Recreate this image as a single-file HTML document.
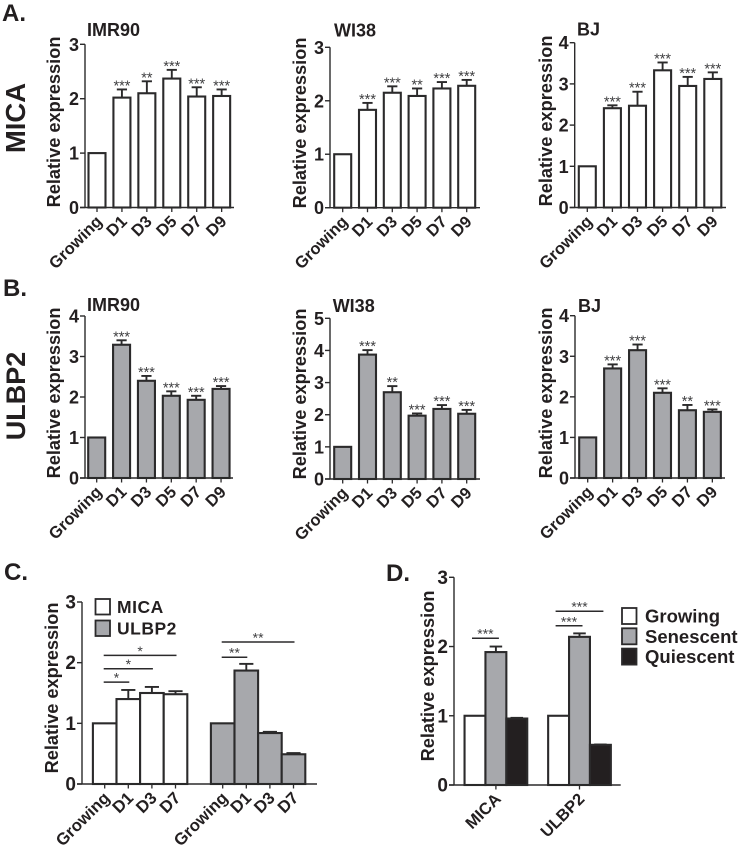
<!DOCTYPE html>
<html lang="en">
<head>
<meta charset="utf-8">
<title>Relative expression of MICA and ULBP2</title>
<style>
html,body{margin:0;padding:0;background:#fff;}
#figure{display:block;width:739px;height:848px;font-family:"Liberation Sans",sans-serif;filter:blur(.3px);}
text{font-family:"Liberation Sans",sans-serif;font-weight:bold;fill:#231f20;}
</style>
</head>
<body>
<svg id="figure" xmlns="http://www.w3.org/2000/svg" width="739" height="848" viewBox="0 0 739 848">
  <text x="2" y="21" font-size="24">A.</text>
  <text x="3" y="296" font-size="24">B.</text>
  <text x="4" y="580" font-size="24">C.</text>
  <text x="386" y="581" font-size="24">D.</text>
  <text transform="translate(25 118) rotate(-90)" text-anchor="middle" font-size="27.5">MICA</text>
  <text transform="translate(25 396) rotate(-90)" text-anchor="middle" font-size="27">ULBP2</text>
</svg>
<script>
// ---- Data ----
const timeCategories = ['Growing', 'D1', 'D3', 'D5', 'D7', 'D9'];
const shortCategories = ['Growing', 'D1', 'D3', 'D7'];
const stateSeries = ['Growing', 'Senescent', 'Quiescent'];
const geneCategories = ['MICA', 'ULBP2'];

const ticks3 = [0, 1, 2, 3];
const ticks4 = [0, 1, 2, 3, 4];
const ticks5 = [0, 1, 2, 3, 4, 5];

const micaImr90Values = [1, 2.02, 2.10, 2.37, 2.04, 2.05];
const micaImr90Errors = [0, 0.15, 0.22, 0.16, 0.17, 0.12];
const micaImr90Sig = ['', '***', '**', '***', '***', '***'];

const micaWi38Values = [1, 1.83, 2.15, 2.09, 2.23, 2.28];
const micaWi38Errors = [0, 0.13, 0.12, 0.14, 0.12, 0.11];
const micaWi38Sig = ['', '***', '***', '**', '***', '***'];

const micaBjValues = [1, 2.41, 2.47, 3.33, 2.95, 3.12];
const micaBjErrors = [0, 0.07, 0.34, 0.19, 0.22, 0.16];
const micaBjSig = ['', '***', '***', '***', '***', '***'];

const ulbp2Imr90Values = [1, 3.29, 2.40, 2.03, 1.93, 2.20];
const ulbp2Imr90Errors = [0, 0.11, 0.12, 0.11, 0.10, 0.07];
const ulbp2Imr90Sig = ['', '***', '***', '***', '***', '***'];

const ulbp2Wi38Values = [1, 3.87, 2.70, 1.97, 2.18, 2.03];
const ulbp2Wi38Errors = [0, 0.14, 0.19, 0.07, 0.12, 0.12];
const ulbp2Wi38Sig = ['', '***', '**', '***', '***', '***'];

const ulbp2BjValues = [1, 2.70, 3.15, 2.10, 1.67, 1.63];
const ulbp2BjErrors = [0, 0.10, 0.14, 0.11, 0.13, 0.06];
const ulbp2BjSig = ['', '***', '***', '***', '**', '***'];

const panelCMicaValues = [1, 1.40, 1.50, 1.48];
const panelCMicaErrors = [0, 0.15, 0.10, 0.05];
const panelCUlbp2Values = [1, 1.87, 0.84, 0.49];
const panelCUlbp2Errors = [0, 0.11, 0.02, 0.02];
const panelCBracketHeights = [1.68, 1.90, 2.12, 2.09, 2.34];
const panelCBracketLabels = ['*', '*', '*', '**', '**'];
const panelCBracketFrom = [0, 0, 0, 5, 5];
const panelCBracketTo = [1, 2, 3, 6, 8];

const panelDGrowingValues = [1, 1];
const panelDSenescentValues = [1.92, 2.14];
const panelDSenescentErrors = [0.08, 0.05];
const panelDQuiescentValues = [0.96, 0.58];
const panelDQuiescentErrors = [0.01, 0.005];
const panelDBracketHeights = [2.12, 2.30, 2.51];
const panelDBracketLabels = ['***', '***', '***'];
const panelDBracketFrom = [0, 4, 4];
const panelDBracketTo = [1, 5, 6];

// ---- Palette ----
const INK = '#2b2a2b';
const WHITE = '#ffffff';
const GREY = '#a7a8ac';
const BLACK = '#231f20';
const STAR = '#3f3f41';

const svg = document.getElementById('figure');
const NS = 'http://www.w3.org/2000/svg';

function make(tag, attrs, parent, content) {
  const node = document.createElementNS(NS, tag);
  for (const key in attrs) node.setAttribute(key, attrs[key]);
  if (content !== undefined) node.textContent = content;
  parent.appendChild(node);
  return node;
}

function makeY(cfg) {
  return function (v) { return cfg.bottom - (cfg.bottom - cfg.top) * v / cfg.max; };
}
function makeX(cfg) {
  return function (slot) { return cfg.x0 + cfg.step * slot; };
}

function drawAxes(cfg, g, y) {
  const yAxis = make('line', {x1: cfg.axisX, x2: cfg.axisX, y1: cfg.top, y2: cfg.bottom, stroke: INK, 'stroke-width': 1.4}, g);
  
  
  const xAxis = make('line', {x1: cfg.axisX - 5, x2: cfg.right, y1: cfg.bottom, y2: cfg.bottom, stroke: INK, 'stroke-width': 1.4}, g);
  
  
  cfg.ticks.forEach(function (t) {
    const tick = make('line', {x1: cfg.axisX - 5, x2: cfg.axisX, y1: y(t), y2: y(t), stroke: INK, 'stroke-width': 1.4}, g);
    
    
    const label = make('text', {x: cfg.axisX - 6, y: y(t) + 6.5, 'text-anchor': 'end', 'font-size': cfg.tickSize || 18}, g, String(t));
    
    
  });
  const yTitle = make('text', {transform: 'translate(' + cfg.yTitleX + ' ' + cfg.yTitleY + ') rotate(-90)', 'text-anchor': 'middle', 'font-size': 18.2}, g, 'Relative expression');
  
  
}

function drawBar(g, cx, width, value, err, fill, y, bottom) {
  if (err > 0) {
    const stem = make('line', {x1: cx, x2: cx, y1: y(value), y2: y(value + err), stroke: INK, 'stroke-width': 1.9}, g);
    
    
    const cap = make('line', {x1: cx - width * 0.3, x2: cx + width * 0.3, y1: y(value + err), y2: y(value + err), stroke: INK, 'stroke-width': 1.9}, g);
    
    
  }
  const bar = make('rect', {x: cx - width / 2, y: y(value), width: width, height: bottom - y(value), fill: fill, stroke: INK, 'stroke-width': 2.1}, g);
  
  
}

function drawXLabel(g, cx, bottom, text, dx, dy, size) {
  const tick = make('line', {x1: cx, x2: cx, y1: bottom, y2: bottom + 4.5, stroke: INK, 'stroke-width': 1.3}, g);
  
  
  const label = make('text', {transform: 'translate(' + (cx + dx) + ' ' + (bottom + dy) + ') rotate(-45)', 'text-anchor': 'end', 'font-size': size}, g, text);
  
  
}

function drawTimeChart(cfg) {
  const g = make('g', {}, svg);
  
  
  const y = makeY(cfg);
  const x = makeX(cfg);
  const title = make('text', {x: cfg.titleX, y: cfg.titleY, 'font-size': 18}, g, cfg.title);
  
  
  cfg.values.forEach(function (v, i) {
    drawBar(g, x(i), 17, v, cfg.errors[i], cfg.fill, y, cfg.bottom);
    drawXLabel(g, x(i), cfg.bottom, timeCategories[i], 6, 15, 16.5);
    if (cfg.sig[i]) {
      const star = make('text', {x: x(i), y: y(v + cfg.errors[i]) + 1, 'text-anchor': 'middle', 'font-size': 14.5, style: 'fill:' + STAR + ';font-weight:normal'}, g, cfg.sig[i]);
      
      
    }
  });
  drawAxes(cfg, g, y);
}

function drawBracket(g, x1, x2, yPos, label) {
  const line = make('line', {x1: x1, x2: x2, y1: yPos, y2: yPos, stroke: INK, 'stroke-width': 1.5}, g);
  
  
  const text = make('text', {x: (x1 + x2) / 2, y: yPos + 0.5, 'text-anchor': 'middle', 'font-size': 14, style: 'fill:' + STAR + ';font-weight:normal'}, g, label);
  
  
}

function drawLegendEntry(g, x, yPos, width, height, fill, label, textX, size, spacing) {
  const swatch = make('rect', {x: x, y: yPos, width: width, height: height, fill: fill, stroke: INK, 'stroke-width': 1.8}, g);
  
  
  const text = make('text', {x: textX, y: yPos + height - 1.5, 'font-size': size, 'letter-spacing': spacing}, g, label);
  
  
}

const chartConfigs = [
  {name: 'mica-imr90-chart', title: 'IMR90', titleX: 87, titleY: 36, axisX: 85, top: 44.3, bottom: 207.5, right: 234, x0: 97, step: 24.93, max: 3, ticks: ticks3, yTitleX: 60, yTitleY: 122, values: micaImr90Values, errors: micaImr90Errors, sig: micaImr90Sig, fill: WHITE},
  {name: 'mica-wi38-chart', title: 'WI38', titleX: 334, titleY: 36.5, axisX: 330, top: 47.3, bottom: 207.7, right: 480, x0: 342.7, step: 24.8, max: 3, ticks: ticks3, yTitleX: 306, yTitleY: 123, values: micaWi38Values, errors: micaWi38Errors, sig: micaWi38Sig, fill: WHITE},
  {name: 'mica-bj-chart', title: 'BJ', titleX: 577, titleY: 35.5, axisX: 574.7, top: 42.7, bottom: 207.5, right: 726, x0: 587.3, step: 25.1, max: 4, ticks: ticks4, yTitleX: 552, yTitleY: 121, values: micaBjValues, errors: micaBjErrors, sig: micaBjSig, fill: WHITE},
  {name: 'ulbp2-imr90-chart', title: 'IMR90', titleX: 87, titleY: 311, axisX: 85, top: 316, bottom: 478, right: 233, x0: 96.7, step: 24.87, max: 4, ticks: ticks4, yTitleX: 60, yTitleY: 393, values: ulbp2Imr90Values, errors: ulbp2Imr90Errors, sig: ulbp2Imr90Sig, fill: GREY},
  {name: 'ulbp2-wi38-chart', title: 'WI38', titleX: 332.7, titleY: 312, axisX: 330, top: 318.3, bottom: 479, right: 480, x0: 342.7, step: 24.8, max: 5, ticks: ticks5, yTitleX: 306, yTitleY: 394, values: ulbp2Wi38Values, errors: ulbp2Wi38Errors, sig: ulbp2Wi38Sig, fill: GREY},
  {name: 'ulbp2-bj-chart', title: 'BJ', titleX: 578, titleY: 312, axisX: 575, top: 315.7, bottom: 478, right: 725, x0: 587.7, step: 24.93, max: 4, ticks: ticks4, yTitleX: 552, yTitleY: 393, values: ulbp2BjValues, errors: ulbp2BjErrors, sig: ulbp2BjSig, fill: GREY}
];
chartConfigs.forEach(drawTimeChart);

// ---- Panel C ----
(function () {
  const cfg = {axisX: 82, top: 602, bottom: 784, right: 317, x0: 104.7, step: 23.6, max: 3, ticks: ticks3, yTitleX: 58, yTitleY: 688, tickSize: 19};
  const g = make('g', {}, svg);
  
  
  const y = makeY(cfg);
  const x = makeX(cfg);
  panelCMicaValues.forEach(function (v, i) {
    drawBar(g, x(i), 23.6, v, panelCMicaErrors[i], WHITE, y, cfg.bottom);
    drawXLabel(g, x(i), cfg.bottom, shortCategories[i], 6, 15, 16.8);
  });
  panelCUlbp2Values.forEach(function (v, i) {
    drawBar(g, x(i + 5), 23.6, v, panelCUlbp2Errors[i], GREY, y, cfg.bottom);
    drawXLabel(g, x(i + 5), cfg.bottom, shortCategories[i], 6, 15, 16.8);
  });
  drawAxes(cfg, g, y);
  panelCBracketHeights.forEach(function (h, i) {
    drawBracket(g, x(panelCBracketFrom[i]) - 1, x(panelCBracketTo[i]) + 1, y(h), panelCBracketLabels[i]);
  });
  drawLegendEntry(g, 95.5, 599, 14.5, 15.5, WHITE, 'MICA', 117, 17.5, 0.5);
  drawLegendEntry(g, 95.5, 620.5, 14.5, 15.5, GREY, 'ULBP2', 117, 17.5, 0.5);
})();

// ---- Panel D ----
(function () {
  const cfg = {axisX: 454, top: 577.3, bottom: 785, right: 620.7, x0: 475, step: 20.9, max: 3, ticks: ticks3, yTitleX: 434, yTitleY: 676, tickSize: 19};
  const g = make('g', {}, svg);
  
  
  const y = makeY(cfg);
  const x = makeX(cfg);
  geneCategories.forEach(function (gene, i) {
    const base = i * 4;
    drawBar(g, x(base), 20.9, panelDGrowingValues[i], 0, WHITE, y, cfg.bottom);
    drawBar(g, x(base + 1), 20.9, panelDSenescentValues[i], panelDSenescentErrors[i], GREY, y, cfg.bottom);
    drawBar(g, x(base + 2), 20.9, panelDQuiescentValues[i], panelDQuiescentErrors[i], BLACK, y, cfg.bottom);
    drawXLabel(g, x(base + 1), cfg.bottom, gene, 6, 15, 16.5);
  });
  drawAxes(cfg, g, y);
  panelDBracketHeights.forEach(function (h, i) {
    drawBracket(g, x(panelDBracketFrom[i]) - 3, x(panelDBracketTo[i]) + 3, y(h), panelDBracketLabels[i]);
  });
  const fills = [WHITE, GREY, BLACK];
  stateSeries.forEach(function (label, i) {
    drawLegendEntry(g, 622, 608 + i * 20.3, 14.5, 16, fills[i], label, 645, 18.5, 0);
  });
})();
</script>
</body>
</html>
